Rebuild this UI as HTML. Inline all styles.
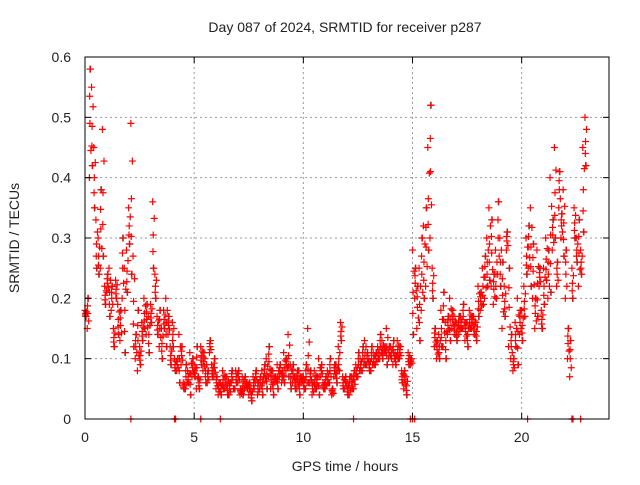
<!DOCTYPE html>
<html><head><meta charset="utf-8"><style>
body{margin:0;background:#fff;}
svg text{font-family:"Liberation Sans",sans-serif;font-size:14px;fill:#222;}
</style></head><body>
<svg id="c" width="640" height="480">
<rect width="640" height="480" fill="#fff"/>
<g id="grid"></g><g id="marks"></g><g id="axes"></g>
</svg>
<script>
const xTicks=[0,5,10,15,20];
const yTicks=[0,0.1,0.2,0.3,0.4,0.5,0.6];
const times=[];for(let i=0;i<230;i++)times.push(+(i*0.1).toFixed(1));
const valsA=[0.18,0.15,0.40,0.55,0.45,0.33,0.30,0.25,0.48,0.22,
0.21,0.25,0.18,0.15,0.23,0.19,0.13,0.20,0.25,0.28,
0.35,0.49,0.27,0.10,0.08,0.12,0.16,0.20,0.14,0.17,
0.19,0.36,0.24,0.17,0.12,0.15,0.18,0.20,0.14,0.12,
0.16,0.10,0.08,0.14,0.09,0.06,0.05,0.08,0.11,0.07,
0.09,0.05,0.07,0.12,0.08,0.10,0.06,0.11,0.09,0.07,
0.05,0.04,0.06,0.08,0.05,0.07,0.04,0.06,0.05,0.08,
0.06,0.04,0.07,0.05,0.06,0.04,0.05,0.07,0.06,0.04,
0.05,0.08,0.06,0.10,0.07,0.05,0.08,0.06,0.09,0.07,
0.06,0.11,0.08,0.14,0.09,0.06,0.07,0.05,0.08,0.06,
0.07,0.05,0.15,0.06,0.04,0.08,0.05,0.10,0.07,0.06,
0.05,0.08,0.06,0.04,0.07,0.09,0.12,0.16,0.07,0.05,
0.06,0.04,0.07,0.05,0.09,0.07,0.10,0.08,0.13,0.09,
0.10,0.08,0.11,0.09,0.12,0.10,0.13,0.11,0.15,0.10,
0.12,0.09,0.11,0.13,0.10,0.08,0.05,0.07,0.11,0.09,
0.28,0.20,0.15,0.25,0.18,0.32,0.22,0.45,0.30,0.25,
0.12,0.10,0.14,0.18,0.12,0.16,0.14,0.20,0.15,0.17,
0.16,0.14,0.17,0.15,0.13,0.16,0.18,0.15,0.17,0.16,
0.22,0.18,0.25,0.20,0.30,0.35,0.22,0.19,0.28,0.24,
0.30,0.15,0.22,0.28,0.12,0.10,0.08,0.16,0.20,0.14,
0.18,0.22,0.30,0.25,0.35,0.20,0.15,0.28,0.22,0.18,
0.25,0.30,0.20,0.40,0.28,0.45,0.22,0.35,0.30,0.38,
0.20,0.10,0.07,0.25,0.35,0.30,0.22,0.28,0.45,0.50];
const valsB=[0.17,0.20,0.58,0.42,0.35,0.25,0.24,0.38,0.27,0.19,
0.24,0.17,0.22,0.12,0.20,0.14,0.18,0.30,0.11,0.21,
0.29,0.24,0.12,0.14,0.18,0.09,0.13,0.15,0.19,0.11,
0.16,0.25,0.20,0.14,0.18,0.10,0.15,0.12,0.17,0.09,
0.12,0.08,0.10,0.06,0.12,0.05,0.09,0.06,0.04,0.10,
0.07,0.12,0.05,0.09,0.11,0.06,0.08,0.13,0.07,0.10,
0.07,0.06,0.04,0.05,0.07,0.04,0.06,0.08,0.05,0.06,
0.08,0.05,0.04,0.07,0.05,0.06,0.03,0.05,0.08,0.06,
0.07,0.04,0.09,0.05,0.12,0.08,0.04,0.07,0.05,0.09,
0.08,0.06,0.10,0.07,0.05,0.09,0.05,0.08,0.04,0.07,
0.05,0.09,0.06,0.08,0.06,0.05,0.07,0.04,0.09,0.05,
0.07,0.06,0.10,0.05,0.09,0.06,0.08,0.13,0.05,0.07,
0.04,0.07,0.05,0.08,0.07,0.11,0.08,0.12,0.09,0.11,
0.08,0.12,0.09,0.11,0.10,0.14,0.10,0.12,0.09,0.12,
0.10,0.13,0.09,0.10,0.12,0.06,0.08,0.04,0.09,0.10,
0.14,0.25,0.22,0.13,0.30,0.20,0.35,0.28,0.52,0.20,
0.15,0.13,0.10,0.12,0.21,0.10,0.17,0.13,0.18,0.14,
0.13,0.17,0.15,0.19,0.16,0.12,0.15,0.17,0.14,0.13,
0.17,0.21,0.19,0.27,0.22,0.23,0.33,0.24,0.20,0.36,
0.22,0.26,0.17,0.31,0.25,0.14,0.10,0.12,0.09,0.18,
0.13,0.17,0.24,0.32,0.22,0.29,0.20,0.17,0.25,0.15,
0.19,0.23,0.28,0.21,0.33,0.30,0.26,0.41,0.34,0.27,
0.28,0.15,0.13,0.20,0.30,0.26,0.33,0.24,0.31,0.42];
const zeroTimes=[2.1,4.1,4.15,5.3,6.2,12.3,14.9,15.0,15.1,20.27,22.3,22.35,22.7];
const X0=85,X1=609,Y0=419,Y1=57,XMAX=24,YMAX=0.6;
const xs=v=>X0+(X1-X0)*v/XMAX, ys=v=>Y0-(Y0-Y1)*v/YMAX;
const NS='http://www.w3.org/2000/svg';
function mk(t,a,p){const e=document.createElementNS(NS,t);for(const k in a)e.setAttribute(k,a[k]);p.appendChild(e);return e;}
const grid=document.getElementById('grid'),marks=document.getElementById('marks'),axes=document.getElementById('axes');
xTicks.forEach(t=>{const x=xs(t);
 if(t>0){const g=mk('line',{x1:x,x2:x,y1:Y1,y2:Y0,stroke:'#999','stroke-dasharray':'2,3','stroke-width':1},grid);
 
 }
 mk('line',{x1:x,x2:x,y1:Y0,y2:Y0-6,stroke:'#000'},axes);mk('line',{x1:x,x2:x,y1:Y1,y2:Y1+6,stroke:'#000'},axes);
 const l=mk('text',{x:x,y:Y0+23,'text-anchor':'middle'},axes);l.textContent=t;
 
 });
yTicks.forEach(t=>{const y=ys(t);
 if(t>0&&t<0.6){const g=mk('line',{x1:X0,x2:X1,y1:y,y2:y,stroke:'#999','stroke-dasharray':'2,3','stroke-width':1},grid);
 
 }
 mk('line',{x1:X0,x2:X0+6,y1:y,y2:y,stroke:'#000'},axes);mk('line',{x1:X1,x2:X1-6,y1:y,y2:y,stroke:'#000'},axes);
 const l=mk('text',{x:X0-14,y:y+5,'text-anchor':'end'},axes);l.textContent=t===0?'0':t.toFixed(1);
 
 });
const fr=mk('rect',{x:X0,y:Y1,width:X1-X0,height:Y0-Y1,fill:'none',stroke:'#000'},axes);


function plus(x,y,c){const p=mk('path',{d:`M${x-3.5},${y}h7M${x},${y-3.5}v7`,stroke:c,'stroke-width':1.2},marks);
 
 }
times.forEach((t,i)=>{plus(xs(t+0.03),ys(valsB[i]),'#555');});
times.forEach((t,i)=>{const a=valsA[i],b=valsB[i];
 plus(xs(t),ys(a),'#f00');plus(xs(t+0.05),ys(b),'#f00');
 plus(xs(t+0.025),ys((a+b)/2),'#f00');
 plus(xs(t+0.07),ys(a*0.75+b*0.25),'#f00');
 plus(xs(t+0.015),ys(a*0.25+b*0.75),'#f00');});
zeroTimes.forEach(t=>plus(xs(t),Y0,'#f00'));
function txt(s,a,n){const e=mk('text',a,axes);e.textContent=s;
 
 return e;}
txt('Day 087 of 2024, SRMTID for receiver p287',{x:345,y:32,'text-anchor':'middle'},'chart-title');
txt('GPS time / hours',{x:345,y:471,'text-anchor':'middle'},'x-axis-title');
txt('SRMTID / TECUs',{x:19,y:238,'text-anchor':'middle',transform:'rotate(-90 19 238)'},'y-axis-title');
</script>
</body></html>
